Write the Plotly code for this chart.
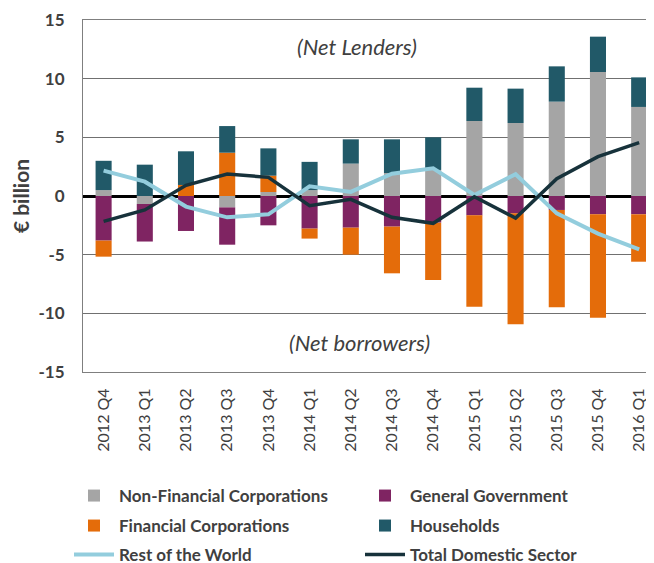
import plotly.graph_objects as go

categories = ["2012 Q4", "2013 Q1", "2013 Q2", "2013 Q3", "2013 Q4", "2014 Q1", "2014 Q2",
              "2014 Q3", "2014 Q4", "2015 Q1", "2015 Q2", "2015 Q3", "2015 Q4", "2016 Q1"]

non_financial_corp = [0.50, -0.68, 0.00, -0.97, 0.34, 0.50, 2.76, 1.96, 2.22, 6.39, 6.22, 8.04, 10.57, 7.59]
general_government = [-3.80, -3.20, -2.98, -3.18, -2.50, -2.78, -2.70, -2.61, -2.27, -1.65, -1.48, -1.19, -1.56, -1.56]
financial_corp = [-1.37, 0.00, 0.94, 3.69, 1.39, -0.85, -2.30, -3.98, -4.89, -7.78, -9.46, -8.30, -8.81, -4.04]
households = [2.50, 2.67, 2.87, 2.27, 2.33, 2.41, 2.07, 2.87, 2.78, 2.84, 2.93, 3.01, 3.01, 2.52]
rest_of_world = [2.16, 1.22, -0.90, -1.82, -1.56, 0.82, 0.35, 1.90, 2.36, 0.09, 1.86, -1.48, -3.20, -4.55]
total_domestic = [-2.16, -1.19, 0.91, 1.88, 1.59, -0.82, -0.28, -1.82, -2.33, -0.06, -1.88, 1.48, 3.35, 4.55]

y_ticks = [-15, -10, -5, 0, 5, 10, 15]
y_tick_labels = ["-15", "-10", "-5", "0", "5", "10", "15"]

FONT = "Lato"
TXT = "#404040"
W, H = 646, 555

fig = go.Figure()
bar_series = [
    ("Non-Financial Corporations", non_financial_corp, "#a5a5a5", "legend"),
    ("General Government", general_government, "#7f2462", "legend2"),
    ("Financial Corporations", financial_corp, "#e46c0a", "legend3"),
    ("Households", households, "#215968", "legend4"),
]
for name, vals, col, lg in bar_series:
    fig.add_trace(go.Bar(x=categories, y=vals, name=name, marker_color=col,
                         marker_line_width=0, width=0.39, legend=lg))

fig.add_trace(go.Scatter(x=categories, y=rest_of_world, name="Rest of the World", mode="lines",
                         line=dict(color="#93cddd", width=4), legend="legend5"))
fig.add_trace(go.Scatter(x=categories, y=total_domestic, name="Total Domestic Sector", mode="lines",
                         line=dict(color="#17323b", width=3.5), legend="legend6"))

fig.add_annotation(x=6.15, y=12.7, text="(Net Lenders)", showarrow=False,
                   font=dict(family=FONT, size=22, color=TXT, style="italic"))
fig.add_annotation(x=6.2, y=-12.5, text="(Net borrowers)", showarrow=False,
                   font=dict(family=FONT, size=22, color=TXT, style="italic"))

def legend_cfg(xl, yc):
    return dict(orientation="h", xref="container", yref="container",
                x=xl / W, y=1 - yc / H, xanchor="left", yanchor="middle",
                traceorder="normal",
                font=dict(family=FONT, size=17, color=TXT, weight="bold"),
                itemwidth=40, bgcolor="rgba(0,0,0,0)")

col_x = [61, 352]
row_y = [488, 518, 547]

fig.update_layout(
    width=W, height=H,
    margin=dict(l=75, r=0, t=12, b=191, autoexpand=False),
    barmode="relative",
    plot_bgcolor="white", paper_bgcolor="white",
    font=dict(family=FONT, color=TXT),
    legend=legend_cfg(col_x[0], row_y[0]),
    legend2=legend_cfg(col_x[1], row_y[0]),
    legend3=legend_cfg(col_x[0], row_y[1]),
    legend4=legend_cfg(col_x[1], row_y[1]),
    legend5=legend_cfg(col_x[0], row_y[2]),
    legend6=legend_cfg(col_x[1], row_y[2]),
    showlegend=True,
)
fig.update_xaxes(range=[-0.5, 13.36], tickangle=-90, showline=True, linecolor="#7f7f7f",
                 linewidth=1, mirror=True, ticks="", showgrid=False, automargin=False,
                 tickfont=dict(family=FONT, size=16, color=TXT), ticklabelstandoff=9)
fig.update_yaxes(range=[-15, 15], tickvals=y_ticks, ticktext=y_tick_labels,
                 showgrid=True, gridcolor="#707070", gridwidth=1,
                 zeroline=True, zerolinecolor="black", zerolinewidth=3, automargin=False,
                 showline=True, linecolor="#7f7f7f", linewidth=1, ticks="",
                 tickfont=dict(family=FONT, size=17, color=TXT, weight="bold"), ticklabelstandoff=14,
                 title=dict(text="€ billion", standoff=8,
                            font=dict(family=FONT, size=21, color=TXT, weight="bold")))

fig.write_html("out.html")
